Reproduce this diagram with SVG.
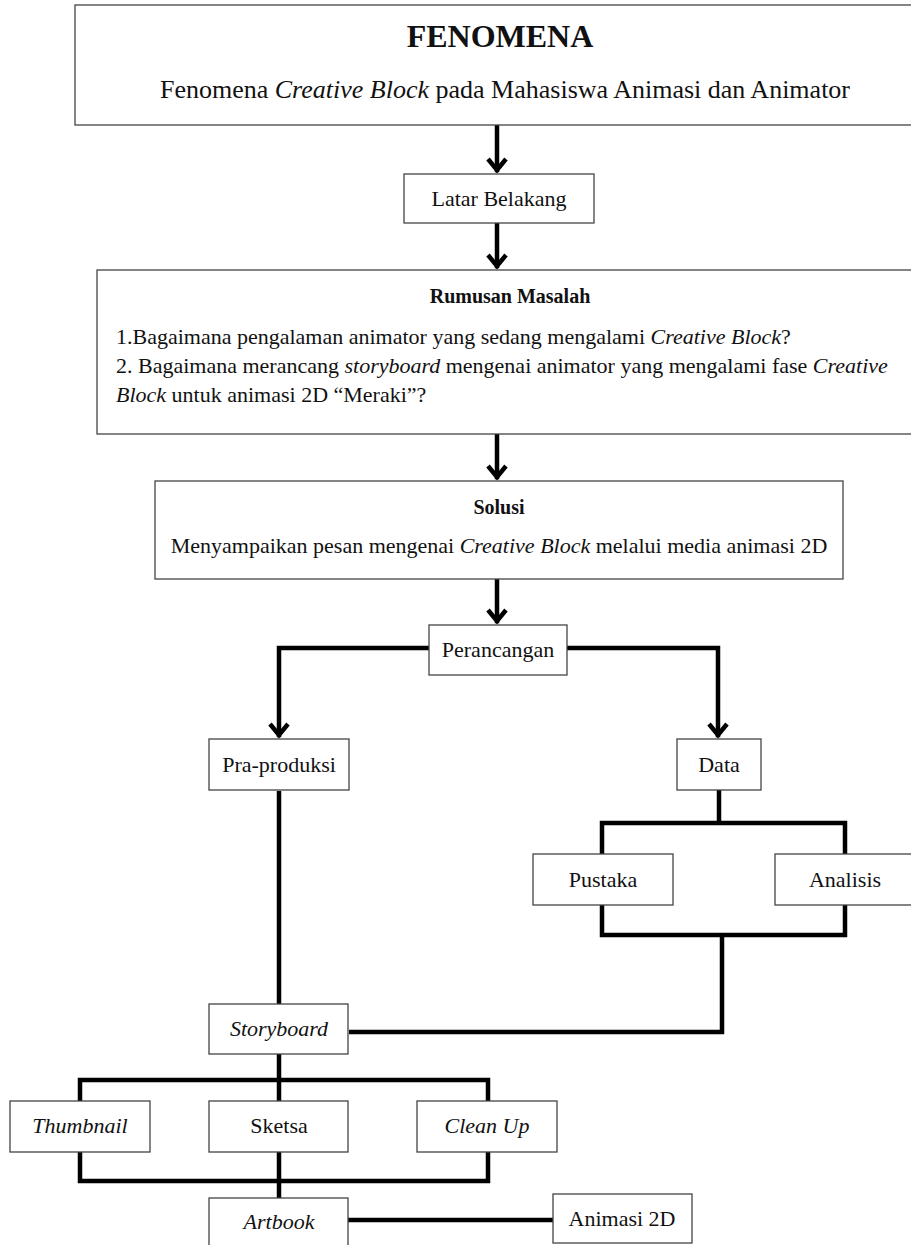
<svg xmlns="http://www.w3.org/2000/svg" width="911" height="1245" viewBox="0 0 911 1245">
<style>
.box{fill:#fff;stroke:#444;stroke-width:1.3}
.ln{fill:none;stroke:#000;stroke-width:4.5;stroke-linecap:square;stroke-linejoin:miter}
.t{font-family:"Liberation Serif","Times New Roman",serif;font-size:22px;fill:#111;text-anchor:middle}
.l{text-anchor:start}
.b{font-weight:bold}
.i{font-style:italic}
</style>
<defs>
<marker id="ah" markerUnits="userSpaceOnUse" orient="auto" refX="0" refY="0" markerWidth="30" markerHeight="30" overflow="visible">
<path d="M-11,-9 L0,0 L-11,9" fill="none" stroke="#000" stroke-width="4.5" stroke-linejoin="miter"/>
</marker>
</defs>
<rect width="911" height="1245" fill="#fff"/>
<g id="connectors">
<line class="ln" x1="497" y1="126" x2="497" y2="170" marker-end="url(#ah)"/>
<line class="ln" x1="497" y1="224" x2="497" y2="266" marker-end="url(#ah)"/>
<line class="ln" x1="497" y1="435" x2="497" y2="477" marker-end="url(#ah)"/>
<line class="ln" x1="497" y1="580" x2="497" y2="621" marker-end="url(#ah)"/>
<polyline class="ln" points="429,648 279,648 279,735" marker-end="url(#ah)"/>
<polyline class="ln" points="567,648 718,648 718,735" marker-end="url(#ah)"/>
<line class="ln" x1="719" y1="791" x2="719" y2="822"/>
<polyline class="ln" points="602,854 602,823 845,823 845,854" style="stroke-linecap:butt"/>
<polyline class="ln" points="602,905 602,935 845,935 845,905" style="stroke-linecap:butt"/>
<polyline class="ln" points="722,935 722,1032 349,1032" style="stroke-linecap:butt"/>
<line class="ln" x1="279" y1="791" x2="279" y2="1004" style="stroke-linecap:butt"/>
<line class="ln" x1="279" y1="1054" x2="279" y2="1101" style="stroke-linecap:butt"/>
<polyline class="ln" points="80,1101 80,1080 488,1080 488,1101" style="stroke-linecap:butt"/>
<polyline class="ln" points="80,1152 80,1181 488,1181 488,1152" style="stroke-linecap:butt"/>
<line class="ln" x1="279" y1="1152" x2="279" y2="1198" style="stroke-linecap:butt"/>
<line class="ln" x1="348" y1="1220" x2="553" y2="1220" style="stroke-linecap:butt"/>
</g>
<g id="fenomena">
<rect class="box" x="75" y="5" width="900" height="120"/>
<text class="t b" x="500" y="47" style="font-size:32px">FENOMENA</text>
<text class="t" x="505" y="98" style="font-size:26px">Fenomena <tspan class="i">Creative Block</tspan> pada Mahasiswa Animasi dan Animator</text>
</g>
<g id="latar">
<rect class="box" x="404" y="174" width="190" height="49"/>
<text class="t" x="499" y="206">Latar Belakang</text>
</g>
<g id="rumusan">
<rect class="box" x="97" y="270" width="900" height="164"/>
<text class="t b" x="510" y="303" style="font-size:20px">Rumusan Masalah</text>
<text class="t l" x="116" y="344">1.Bagaimana pengalaman animator yang sedang mengalami <tspan class="i">Creative Block</tspan>?</text>
<text class="t l" x="116" y="373">2. Bagaimana merancang <tspan class="i">storyboard</tspan> mengenai animator yang mengalami fase <tspan class="i">Creative</tspan></text>
<text class="t l" x="116" y="402"><tspan class="i">Block</tspan> untuk animasi 2D “Meraki”?</text>
</g>
<g id="solusi">
<rect class="box" x="155" y="481" width="688" height="98"/>
<text class="t b" x="499" y="514" style="font-size:20px">Solusi</text>
<text class="t" x="499" y="553">Menyampaikan pesan mengenai <tspan class="i">Creative Block</tspan> melalui media animasi 2D</text>
</g>
<g id="perancangan">
<rect class="box" x="429" y="625" width="138" height="50"/>
<text class="t" x="498" y="657">Perancangan</text>
</g>
<g id="praproduksi">
<rect class="box" x="209" y="739" width="140" height="51"/>
<text class="t" x="279" y="772">Pra-produksi</text>
</g>
<g id="data">
<rect class="box" x="677" y="739" width="84" height="51"/>
<text class="t" x="719" y="772">Data</text>
</g>
<g id="pustaka">
<rect class="box" x="533" y="854" width="140" height="51"/>
<text class="t" x="603" y="887">Pustaka</text>
</g>
<g id="analisis">
<rect class="box" x="775" y="854" width="140" height="51"/>
<text class="t" x="845" y="887">Analisis</text>
</g>
<g id="storyboard">
<rect class="box" x="209" y="1004" width="139" height="50"/>
<text class="t i" x="279" y="1036">Storyboard</text>
</g>
<g id="thumbnail">
<rect class="box" x="10" y="1101" width="140" height="51"/>
<text class="t i" x="80" y="1133">Thumbnail</text>
</g>
<g id="sketsa">
<rect class="box" x="209" y="1101" width="139" height="51"/>
<text class="t" x="279" y="1133">Sketsa</text>
</g>
<g id="cleanup">
<rect class="box" x="417" y="1101" width="140" height="51"/>
<text class="t i" x="487" y="1133">Clean Up</text>
</g>
<g id="artbook">
<rect class="box" x="209" y="1198" width="139" height="60"/>
<text class="t i" x="279" y="1229">Artbook</text>
</g>
<g id="animasi2d">
<rect class="box" x="553" y="1194" width="139" height="49"/>
<text class="t" x="622" y="1226">Animasi 2D</text>
</g>
</svg>
